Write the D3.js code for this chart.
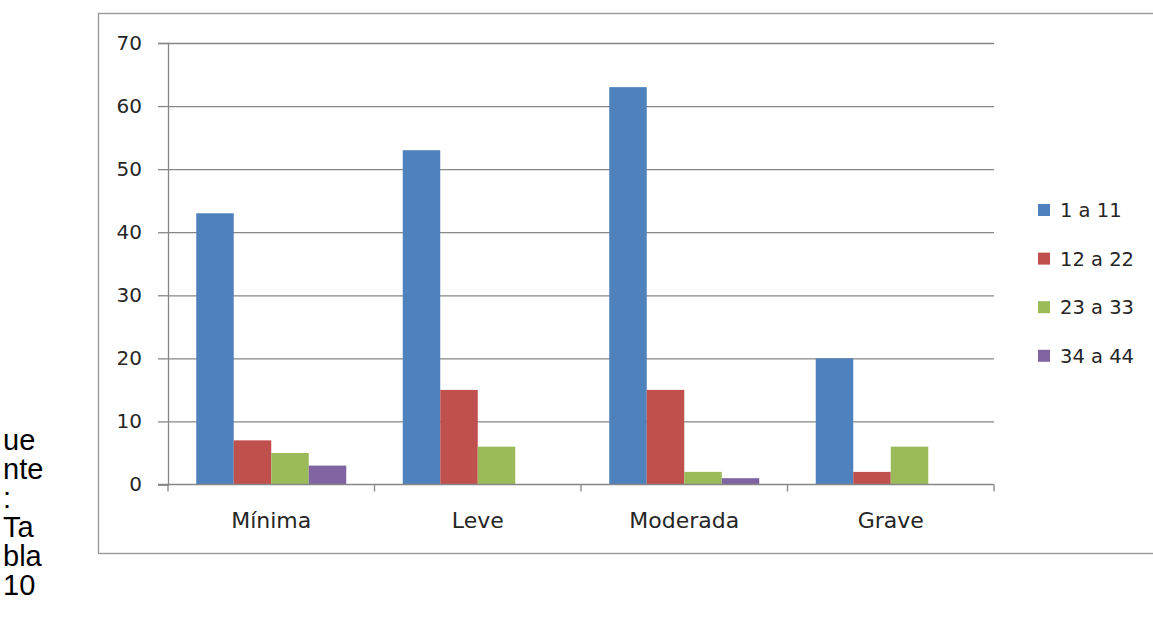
<!DOCTYPE html>
<html>
<head>
<meta charset="utf-8">
<script src="https://cdn.jsdelivr.net/npm/d3@7"></script>
<style>
  html, body { margin: 0; padding: 0; background: #fff; }
  svg { display: block; }
</style>
</head>
<body>
<svg id="chart" width="1153" height="618"></svg>
<script>
// Severity categories and age-group series
const categories = ["Mínima", "Leve", "Moderada", "Grave"];
const seriesNames = ["1 a 11", "12 a 22", "23 a 33", "34 a 44"];
const seriesColors = ["#4F81BD", "#C0504D", "#9BBB59", "#8064A2"];
const values1a11 = [43, 53, 63, 20];
const values12a22 = [7, 15, 15, 2];
const values23a33 = [5, 6, 2, 6];
const values34a44 = [3, 0, 1, 0];
const yTicks = [0, 10, 20, 30, 40, 50, 60, 70];
const sideText = ["ue", "nte", ":", "Ta", "bla", "10"];

const seriesValues = [values1a11, values12a22, values23a33, values34a44];

const svg = d3.select("#chart");
const gridColor = "#868686";
const textColor = "#262626";
const font = "'DejaVu Sans', sans-serif";

// Fragment of wrapped text running down the left margin
const side = svg.append("g");
side.selectAll("text")
  .data(sideText)
  .join("text")
  .attr("x", 3)
  .attr("y", (d, i) => 450 + i * 29)
  .attr("font-family", "'Liberation Sans', Arial, sans-serif")
  .attr("font-size", 29)
  .attr("fill", "#000")
  .text(d => d);

// Chart area border (runs off the right edge)
svg.append("rect")
  .attr("x", 98.5).attr("y", 13.5)
  .attr("width", 1080).attr("height", 540)
  .attr("fill", "none")
  .attr("stroke", "#9a9a9a")
  .attr("stroke-width", 1.4);

const x0 = d3.scaleBand().domain(categories).range([168, 994]).paddingInner(0).paddingOuter(0);
const x1 = d3.scaleBand().domain(seriesNames).range([0, x0.bandwidth()]).paddingInner(0).paddingOuter(0.753);
const y = d3.scaleLinear().domain([0, 70]).range([484.5, 43]);

// Horizontal gridlines with left ticks and labels
const yAxis = svg.append("g")
  .attr("transform", "translate(168,0)")
  .call(d3.axisLeft(y).tickValues(yTicks).tickSize(10).tickPadding(16).tickFormat(d3.format("d")));
yAxis.select(".domain").attr("stroke", gridColor).attr("stroke-width", 1.3);
yAxis.selectAll(".tick line").attr("stroke", gridColor).attr("stroke-width", 1.3);
yAxis.selectAll(".tick text")
  .attr("font-family", font).attr("font-size", 20).attr("fill", textColor);
yAxis.selectAll(".tick").filter(d => d > 0)
  .append("line")
  .attr("x1", 0).attr("x2", 994 - 168)
  .attr("stroke", gridColor).attr("stroke-width", 1.3);

// Bars
const groups = svg.append("g").selectAll("g")
  .data(categories)
  .join("g")
  .attr("transform", d => `translate(${x0(d)},0)`);
groups.selectAll("rect")
  .data((c, ci) => seriesNames.map((s, si) => ({ s, si, v: seriesValues[si][ci] })))
  .join("rect")
  .attr("x", d => x1(d.s))
  .attr("y", d => y(d.v))
  .attr("width", x1.bandwidth())
  .attr("height", d => y(0) - y(d.v))
  .attr("fill", d => seriesColors[d.si]);

// Category axis with boundary ticks
const xg = svg.append("g");
xg.append("line")
  .attr("x1", 158).attr("x2", 994)
  .attr("y1", y(0)).attr("y2", y(0))
  .attr("stroke", gridColor).attr("stroke-width", 1.3);
const boundaries = categories.map(c => x0(c)).concat([x0(categories[categories.length - 1]) + x0.bandwidth()]);
xg.selectAll("line.b")
  .data(boundaries)
  .join("line")
  .attr("class", "b")
  .attr("x1", d => d).attr("x2", d => d)
  .attr("y1", y(0)).attr("y2", y(0) + 7)
  .attr("stroke", gridColor).attr("stroke-width", 1.3);
xg.selectAll("text")
  .data(categories)
  .join("text")
  .attr("x", d => x0(d) + x0.bandwidth() / 2)
  .attr("y", 528)
  .attr("text-anchor", "middle")
  .attr("font-family", font)
  .attr("font-size", 22)
  .attr("fill", textColor)
  .text(d => d);

// Legend
const legend = svg.append("g").selectAll("g")
  .data(seriesNames)
  .join("g")
  .attr("transform", (d, i) => `translate(1038,${210 + i * 48.6})`);
legend.append("rect")
  .attr("x", 0).attr("y", -6)
  .attr("width", 12).attr("height", 12)
  .attr("fill", (d, i) => seriesColors[i]);
legend.append("text")
  .attr("x", 22).attr("y", 7)
  .attr("font-family", font)
  .attr("font-size", 19.5)
  .attr("fill", textColor)
  .text(d => d);
</script>
</body>
</html>
